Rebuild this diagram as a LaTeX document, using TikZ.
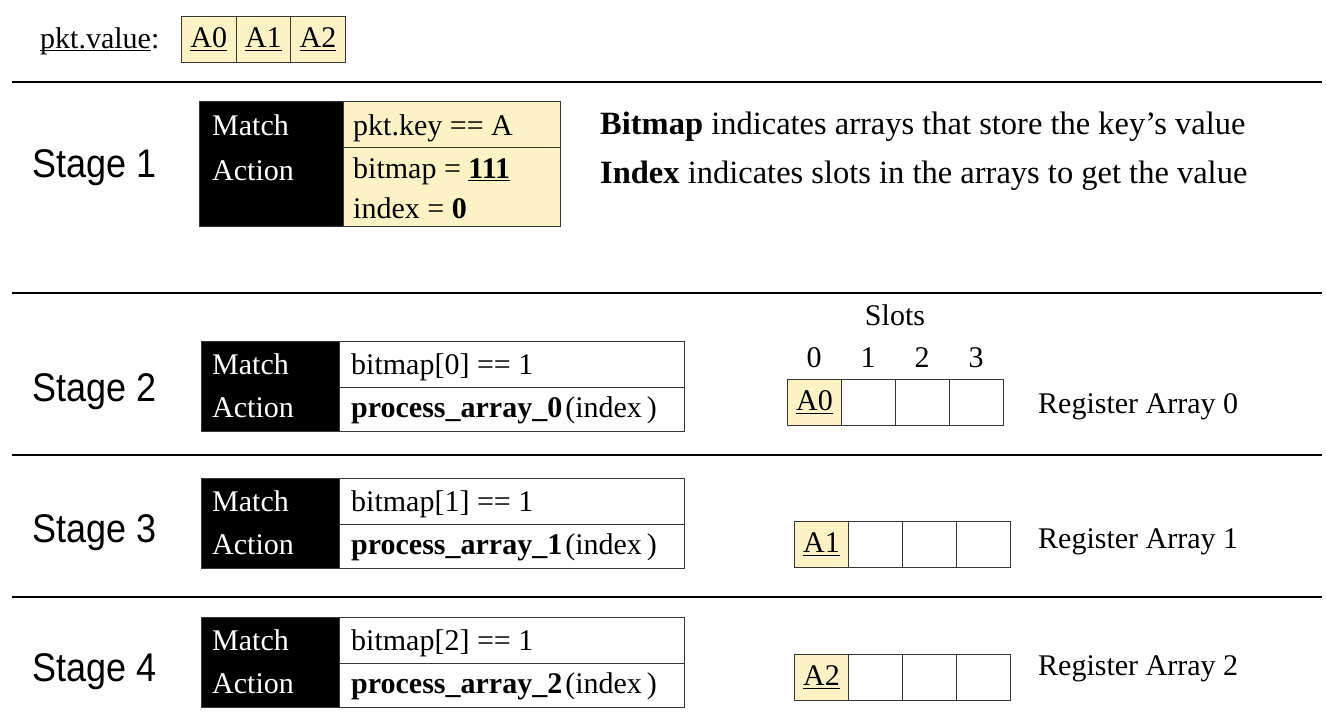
\documentclass[tikz,border=0pt]{standalone}
\usepackage{fontspec}
\setmainfont{Liberation Serif}
\newfontfamily\stagefont[FakeStretch=0.9]{Liberation Sans}
\definecolor{valyel}{RGB}{252,242,196}
\definecolor{edgegray}{RGB}{55,55,55}
% underline that crosses the descenders
\newcommand\undl[1]{\setbox0\hbox{#1}\rlap{\rule[-3pt]{\wd0}{1.4pt}}\box0}

\begin{document}
\begin{tikzpicture}[
    x=1pt, y=-1pt,
    font=\fontsize{30}{36}\selectfont,
    sep/.style={line width=2.6pt, black},
    blk/.style={fill=black, draw=edgegray, line width=1pt, anchor=north west, inner sep=0pt},
    cell/.style={draw=edgegray, line width=1pt, anchor=north west, inner sep=0pt},
    yel/.style={cell, fill=valyel},
    lab/.style={anchor=base west, inner sep=0pt},
    wlab/.style={lab, text=white},
    stg/.style={lab, font=\stagefont\fontsize{40}{44}\selectfont},
  ]
  \useasboundingbox (0,0) rectangle (1326,720);

  % packet value
  \node[lab] (pv) at (40,48) {\undl{pkt.value}:};
  \foreach \c in {0,1,2} {
      \node[yel, minimum width=54.6, minimum height=46] (v\c) at (181+54.6*\c,16) {\undl{A\c}};
    }

  \foreach \y in {82,293,455,597} {
      \draw[sep] (12,\y) -- (1322,\y);
    }

  % stage 1
  \node[stg] (st1) at (32,177) {Stage 1};
  \node[blk, minimum width=144, minimum height=125] (h1) at (199,101) {};
  \node[yel, minimum width=217, minimum height=46] (m1) at (343,101) {};
  \node[yel, minimum width=217, minimum height=79] (a1) at (343,147) {};
  \node[wlab] (mt1) at (212,135) {Match};
  \node[wlab] (at1) at (212,180) {Action};
  \node[lab] (mk1) at (353,135) {pkt.key == A};
  \node[lab] (bm1) at (353,178) {bitmap = \undl{\textbf{111}}};
  \node[lab] (ix1) at (353,218) {index = \textbf{0}};

  \node[lab, font=\fontsize{32.5}{38}\selectfont] (nb) at (600,134)
  {\textbf{Bitmap} indicates arrays that store the key’s value};
  \node[lab, font=\fontsize{32.5}{38}\selectfont] (ni) at (600,183)
  {\textbf{Index} indicates slots in the arrays to get the value};

  % slot numbers
  \node[anchor=base, inner sep=0pt] (slots) at (895,325) {Slots};
  \foreach \c in {0,...,3} {
      \node[anchor=base, inner sep=0pt] (n\c) at (814+54*\c,367) {\c};
    }

  % stages 2-4
  \foreach \s/\t/\ax/\at/\rb/\sb in {2/341/787/379/413/401, 3/478/794/521/548/542, 4/617/794/654/675/681} {
      \pgfmathtruncatemacro\a{\s-2}
      \node[stg] (st\s) at (32,\sb) {Stage \s};
      \node[blk, minimum width=138, minimum height=90] (h\s) at (201,\t) {};
      \node[cell, minimum width=345, minimum height=46] (m\s) at (339,\t) {};
      \node[cell, minimum width=345, minimum height=44] (a\s) at (339,\t+46) {};
      \node[wlab] (mt\s) at (212,\t+33) {Match};
      \node[wlab] (at\s) at (212,\t+76) {Action};
      \node[lab] (mk\s) at (351,\t+33) {bitmap[\a] == 1};
      \node[lab] (pa\s) at (351,\t+76) {\textbf{process\_array\_\a}\hspace{3pt}(index\hspace{5pt})};

      \node[yel, minimum width=54, minimum height=46] (r\s0) at (\ax,\at) {\undl{A\a}};
      \foreach \c in {1,2,3} {
          \node[cell, minimum width=54, minimum height=46] (r\s\c) at (\ax+54*\c,\at) {};
        }
      \node[lab] (reg\s) at (1038,\rb) {Register Array \a};
    }
\end{tikzpicture}
\end{document}
